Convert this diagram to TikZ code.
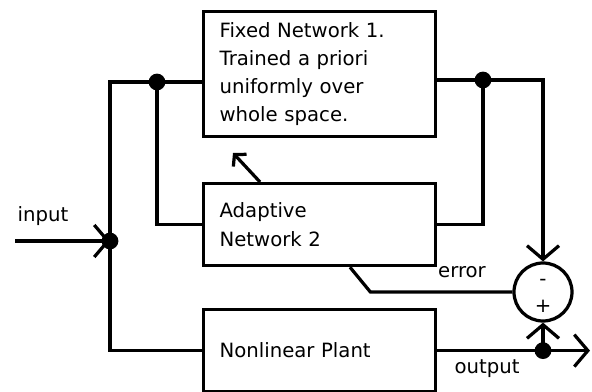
\documentclass[tikz,border=0pt]{standalone}
\usepackage{fontspec}
\setmainfont{DejaVu Sans}
\usepackage{tikz}
\usetikzlibrary{arrows.meta}

\begin{document}
\begin{tikzpicture}[x=0.25mm,y=-0.25mm,line width=2.3pt,
  every node/.style={font=\fontsize{14}{20}\selectfont},
  blockbox/.style={draw,rectangle,anchor=north west,align=left,text width=50mm,inner xsep=4mm,inner ysep=0pt},
  jdot/.style={circle,fill,inner sep=0pt,minimum size=4.2mm},
  bigbarb/.style={-{Straight Barb[length=3.4mm,width=8mm,line width=2.3pt]}},
  smallbarb/.style={-{Straight Barb[length=2mm,width=4.5mm,line width=2.3pt]}}]
\useasboundingbox (0,0) rectangle (592,392);
\node[blockbox,minimum height=31.25mm] (fixed) at (202,10) {Fixed Network 1.\\Trained a priori\\uniformly over\\whole space.};
\node[blockbox,minimum height=20.5mm] (adapt) at (202,182) {Adaptive\\Network 2};
\node[blockbox,minimum height=20.5mm] (plant) at (202,308) {Nonlinear Plant};
\node[draw,circle,inner sep=0pt,minimum size=14.5mm] (sum) at (543,292) {};
\node (minus) at (543,282) {-};
\node (plus) at (543,306) {+};
\coordinate (in0) at (15,241);
\coordinate (jin) at (110,241);
\coordinate (jA) at (157,82);
\coordinate (jB) at (483,80);
\coordinate (jC) at (sum |- plant.east);
\coordinate (out0) at (590,0);
\coordinate (upd) at (233,153);
\node (lin) at (43,216) {input};
\node (lerr) at (462,272) {error};
\node (lout) at (487,369) {output};
\draw[bigbarb] (in0) -- (jin);
\draw (jin) |- (jA) -- (fixed.west |- jA);
\draw (jA) |- (adapt.west);
\draw (jin) |- (plant.west);
\draw (fixed.east |- jB) -- (jB);
\draw[bigbarb] (jB) -| (sum.north);
\draw (jB) |- (adapt.east);
\draw[smallbarb] ([xshift=14.5mm]adapt.north west) -- (upd);
\draw ([xshift=37mm]adapt.south west) -- ([xshift=-35.5mm]sum.west) -- (sum.west);
\draw[bigbarb] (plant.east) -- (plant.east -| out0);
\draw[bigbarb] (jC) -- (sum.south);
\node[jdot] at (jin) {};
\node[jdot] at (jA) {};
\node[jdot] at (jB) {};
\node[jdot] at (jC) {};
\end{tikzpicture}
\end{document}
